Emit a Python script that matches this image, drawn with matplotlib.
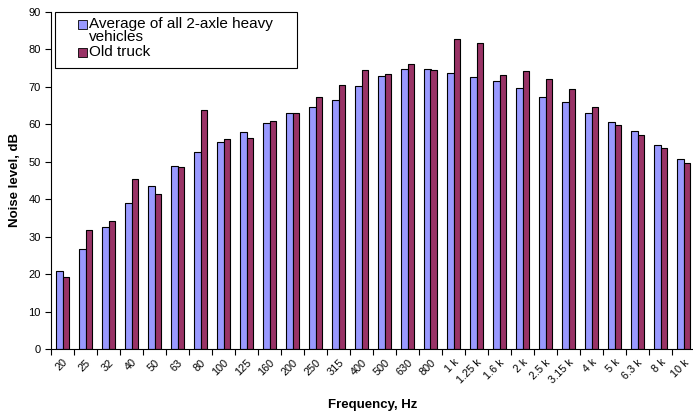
import matplotlib.pyplot as plt
from matplotlib.patches import Rectangle
import numpy as np

plt.rcParams['font.family'] = ['Liberation Sans', 'DejaVu Sans']

# frequency bands and levels (dB)
freqs = ['20', '25', '32', '40', '50', '63', '80', '100', '125', '160', '200',
         '250', '315', '400', '500', '630', '800', '1 k', '1.25 k', '1.6 k',
         '2 k', '2.5 k', '3.15 k', '4 k', '5 k', '6.3 k', '8 k', '10 k']
avg_2axle = [20.9, 26.7, 32.7, 39.0, 43.5, 49.0, 52.5, 55.4, 57.9, 60.4, 63.0,
             64.5, 66.5, 70.2, 72.8, 74.8, 74.8, 73.8, 72.7, 71.7, 69.6, 67.4,
             65.9, 63.1, 60.5, 58.1, 54.5, 50.7]
old_truck = [19.3, 31.7, 34.3, 45.5, 41.5, 48.5, 63.7, 56.1, 56.4, 60.9, 62.9,
             67.4, 70.6, 74.6, 73.5, 76.1, 74.6, 82.9, 81.8, 73.2, 74.3, 72.0,
             69.5, 64.7, 59.8, 57.1, 53.8, 49.6]
series_names = ['Average of all 2-axle heavy\nvehicles', 'Old truck']
colors = ['#9999FF', '#993366']

W, H = 693, 418
x = np.arange(len(freqs))
w = 0.30

fig = plt.figure(figsize=(W / 100, H / 100), dpi=100)
ax = fig.add_axes([51 / W, 1 - 349 / H, 644 / W, 337 / H])

# light shadow behind the bars, like the spreadsheet chart
sh = 0.035
ax.bar(x - w / 2 + sh, avg_2axle, w, color='#888888', zorder=1)
ax.bar(x + w / 2 + sh, old_truck, w, color='#888888', zorder=1)
ax.bar(x - w / 2, avg_2axle, w, color=colors[0], edgecolor='black',
       linewidth=0.8, zorder=2)
ax.bar(x + w / 2, old_truck, w, color=colors[1], edgecolor='black',
       linewidth=0.8, zorder=2)

ax.set_xlim(-0.5, len(freqs) - 0.5)
ax.set_ylim(0, 90)
ax.set_yticks(np.arange(0, 91, 10))
ax.set_xticks(x - 0.5)
ax.set_xticklabels([])
ax.set_xticks(x, minor=True)
ax.set_xticklabels(freqs, minor=True, rotation=45, ha='right',
                   rotation_mode='anchor', fontsize=7.8)
ax.tick_params(axis='x', which='minor', length=0, pad=6)
ax.tick_params(axis='x', which='major', direction='out', length=4)
ax.tick_params(axis='y', direction='out', length=4, labelsize=8)

for s in ['top', 'right']:
    ax.spines[s].set_visible(False)

ax.set_ylabel('Noise level, dB', fontsize=9.5, fontweight='bold', labelpad=5)
ax.set_xlabel('Frequency, Hz', fontsize=9.5, fontweight='bold', labelpad=10)

# legend drawn by hand: box, square keys, text
fig.add_artist(Rectangle((55 / W, 1 - 68 / H), 242 / W, 56 / H,
                         transform=fig.transFigure, facecolor='white',
                         edgecolor='black', linewidth=0.8, zorder=5))
key_y = [29, 57]
text_top = [17, 45]
for name, c, ky, ty in zip(series_names, colors, key_y, text_top):
    fig.add_artist(Rectangle((78 / W, 1 - ky / H), 9 / W, 9 / H,
                             transform=fig.transFigure, facecolor=c,
                             edgecolor='black', linewidth=0.6, zorder=6))
    fig.text(89 / W, 1 - ty / H, name, fontsize=11, ha='left',
             va='top', linespacing=0.88, zorder=7)

fig.savefig('out.png', dpi=100)
